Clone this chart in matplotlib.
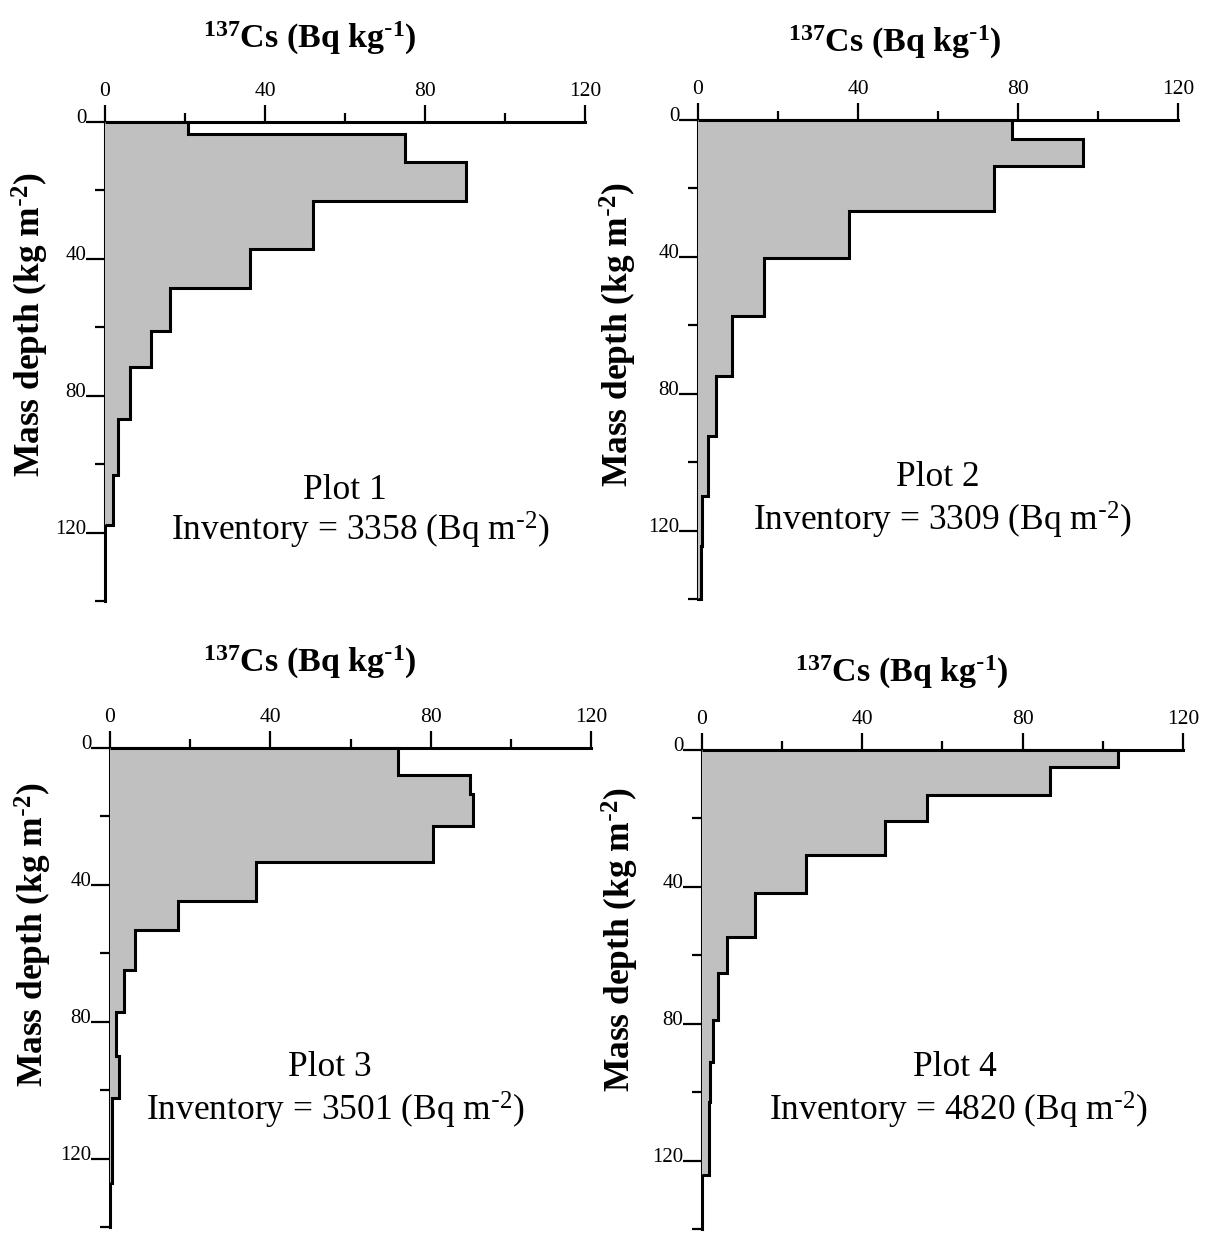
import matplotlib
matplotlib.use("Agg")
import matplotlib.pyplot as plt
import matplotlib.transforms as mtransforms
from matplotlib.ticker import MultipleLocator

plt.rcParams['font.family'] = ['Liberation Serif', 'DejaVu Serif']
plt.rcParams['mathtext.default'] = 'regular'

# layer boundaries (mass depth, kg m-2) and 137Cs activity (Bq kg-1) per layer
depth1 = [0, 3.6, 11.8, 23.1, 37.2, 48.4, 61.0, 71.5, 86.8, 103.3, 117.8]
cs1 = [20.8, 74.9, 90.2, 52.1, 36.3, 16.2, 11.6, 6.3, 3.3, 1.9]

depth2 = [0, 5.5, 13.5, 26.7, 40.3, 57.3, 74.8, 92.5, 110.0, 124.5, 140.0]
cs2 = [78.6, 96.3, 74.0, 37.7, 16.5, 8.5, 4.6, 2.6, 1.1, 0.7]

depth3 = [0, 8.0, 13.4, 22.8, 33.4, 44.6, 53.3, 64.9, 77.3, 89.9, 102.3, 127.2]
cs3 = [71.8, 89.7, 90.6, 80.6, 36.4, 16.9, 6.2, 3.6, 1.5, 2.2, 0.6]

depth4 = [0, 5.0, 13.2, 20.8, 30.8, 41.8, 54.6, 65.1, 78.8, 91.1, 102.8, 124.2]
cs4 = [103.7, 86.7, 56.2, 45.7, 25.9, 13.3, 6.2, 4.1, 2.7, 2.0, 1.7]

plot_names = ["Plot 1", "Plot 2", "Plot 3", "Plot 4"]
inventories = [3358, 3309, 3501, 4820]

W, H = 1216, 1234
fig = plt.figure(figsize=(W / 100, H / 100), dpi=100)


def px_axes(left, top, right, bottom):
    return fig.add_axes([left / W, 1 - bottom / H, (right - left) / W, (bottom - top) / H])


# axes boxes in pixels: left, top, right, bottom
boxes = [(105, 122, 585, 601), (698, 120, 1178, 599),
         (110, 748, 591, 1227), (702, 750, 1183, 1229)]
title_pos = [(310, 38), (895, 42), (310, 662), (902, 672)]
ylab_pos = [(30, 325), (618, 335), (33, 935), (620, 940)]
note_pos = [(345, 490, 360, 530), (938, 478, 942, 520),
            (330, 1068, 335, 1110), (955, 1068, 958, 1110)]

data = [(depth1, cs1), (depth2, cs2), (depth3, cs3), (depth4, cs4)]

for i, (depth, cs) in enumerate(data):
    ax = px_axes(*boxes[i])
    ax.stairs(cs, depth, orientation='horizontal', baseline=0, fill=True,
              color='#c0c0c0', zorder=2.6)
    ax.stairs(cs, depth, orientation='horizontal', baseline=0, fill=False,
              color='black', lw=2.2, zorder=3, clip_on=False)

    ax.set_xlim(0, 120)
    ax.set_ylim(140, 0)
    ax.xaxis.tick_top()
    for s in ['right', 'bottom']:
        ax.spines[s].set_visible(False)
    for s in ['left', 'top']:
        ax.spines[s].set_linewidth(2.2)

    ax.xaxis.set_major_locator(MultipleLocator(40))
    ax.xaxis.set_minor_locator(MultipleLocator(20))
    ax.yaxis.set_major_locator(MultipleLocator(40))
    ax.yaxis.set_minor_locator(MultipleLocator(20))
    ax.tick_params(axis='x', which='major', direction='out', length=12, width=1.6,
                   labelsize=15.5, pad=3)
    ax.tick_params(axis='x', which='minor', direction='out', length=6.5, width=1.6)
    ax.tick_params(axis='y', which='major', direction='out', length=13.5, width=1.6,
                   labelsize=15, pad=0)
    ax.tick_params(axis='y', which='minor', direction='out', length=7, width=1.6)

    shift = mtransforms.ScaledTranslation(0, 4 / 72, fig.dpi_scale_trans)
    for lab in ax.get_yticklabels():
        lab.set_transform(lab.get_transform() + shift)

    tx, ty = title_pos[i]
    fig.text(tx / W, 1 - ty / H, r'$^{137}$Cs (Bq kg$^{\text{-}1}$)', ha='center', va='center',
             fontsize=24.5, fontweight='bold')
    yx, yy = ylab_pos[i]
    fig.text(yx / W, 1 - yy / H, r'Mass depth (kg m$^{\text{-}2}$)', ha='center', va='center',
             rotation=90, fontsize=25.5, fontweight='bold')
    px1, py1, px2, py2 = note_pos[i]
    fig.text(px1 / W, 1 - py1 / H, plot_names[i], ha='center', va='center', fontsize=25.5)
    fig.text(px2 / W, 1 - py2 / H, f'Inventory = {inventories[i]} (Bq m$^{{\\text{{-}}2}}$)',
             ha='center', va='center', fontsize=25.5)

fig.savefig('out.png', dpi=100)
